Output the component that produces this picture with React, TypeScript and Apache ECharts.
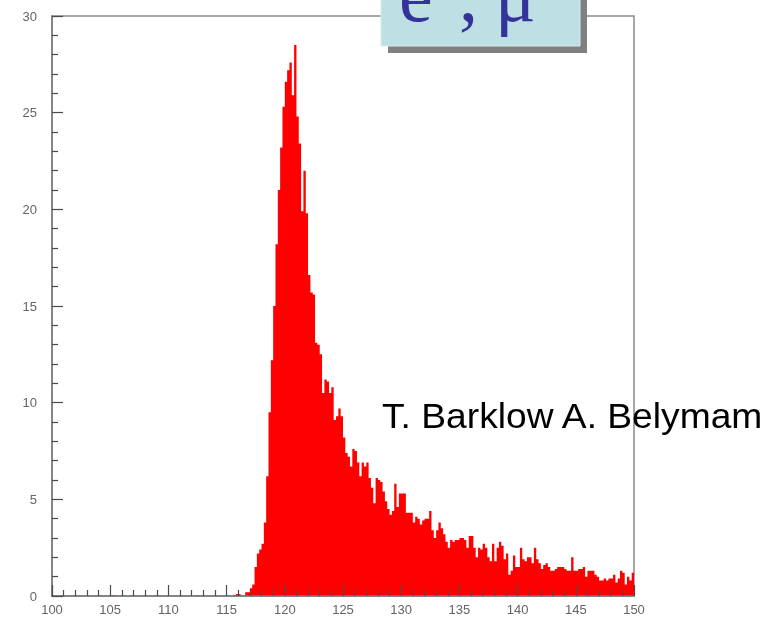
import React, { useEffect, useRef } from "react";
import * as echarts from "echarts";

// Histogram: bins of width 0.2 starting at 100
const binStart = 100;
const binWidth = 0.2;

// 100.0 – 115.8 (80 bins)
const counts100to116 = [
  0, 0, 0, 0, 0, 0, 0, 0, 0, 0, 0, 0, 0, 0, 0, 0, 0, 0, 0, 0,
  0, 0, 0, 0, 0, 0, 0.05, 0, 0, 0, 0, 0, 0, 0, 0, 0, 0, 0, 0, 0,
  0, 0, 0, 0, 0, 0, 0, 0, 0, 0, 0, 0, 0, 0, 0, 0, 0, 0, 0, 0,
  0, 0, 0.05, 0, 0, 0, 0, 0, 0, 0, 0, 0, 0, 0, 0, 0, 0, 0, 0.05, 0.1,
];

// 116.0 – 124.8 (45 bins)
const counts116to125 = [
  0.1, 0, 0, 0.2, 0.2,
  0.4, 0.6, 1.5, 2.2, 2.4,
  2.7, 3.8, 6.2, 9.5, 12.2,
  15.0, 18.2, 21.0, 23.2, 25.3,
  26.6, 27.2, 27.6, 25.9, 28.5,
  24.8, 23.4, 19.9, 22.0, 19.8,
  16.6, 15.7, 15.6, 13.1, 13.0,
  12.5, 10.5, 11.2, 11.1, 10.5,
  10.8, 9.1, 9.3, 9.7, 9.3,
];

// 125.0 – 149.8 (125 bins)
const counts125to150 = [
  8.2, 7.4, 7.2, 6.7, 7.6,
  7.5, 6.9, 6.2, 6.9, 6.7,
  6.9, 6.1, 5.6, 4.8, 6.1,
  6.0, 5.9, 5.4, 4.9, 4.5,
  4.2, 4.4, 5.8, 4.6, 5.3,
  5.3, 5.3, 4.3, 4.3, 4.3,
  3.8, 4.1, 4.0, 3.7, 3.9,
  4.0, 4.0, 4.4, 3.4, 3.0,
  3.4, 3.8, 3.5, 3.2, 2.8,
  2.5, 2.9, 2.8, 2.9, 2.9,
  3.0, 3.0, 2.9, 2.5, 3.1,
  3.1, 2.5, 2.0, 2.5, 2.4,
  2.7, 2.5, 2.0, 1.8, 2.7,
  1.8, 2.5, 2.8, 2.6, 1.9,
  2.2, 1.1, 1.3, 2.1, 1.5,
  1.5, 2.5, 1.9, 1.8, 2.0,
  2.0, 1.7, 2.5, 1.9, 1.7,
  1.4, 1.6, 1.7, 1.5, 1.3,
  1.3, 1.4, 1.5, 1.5, 1.5,
  1.4, 1.3, 1.3, 2.0, 1.3,
  1.3, 1.4, 1.4, 1.5, 1.0,
  1.3, 1.3, 1.3, 1.1, 1.0,
  0.8, 0.8, 0.9, 0.8, 0.9,
  0.9, 1.1, 0.7, 0.9, 1.3,
  1.2, 0.6, 1.0, 0.8, 1.2,
];

const xTickLabels = ["100", "105", "110", "115", "120", "125", "130", "135", "140", "145", "150"];
const yTickLabels = ["0", "5", "10", "15", "20", "25", "30"];

const boxText = ["e", ",", "μ"];
const authorText = "T. Barklow A. Belymam";

export default function App() {
  const ref = useRef<HTMLDivElement>(null);

  useEffect(() => {
    if (!ref.current) return;
    const chart = echarts.init(ref.current, undefined, { renderer: "svg" });

    const counts = [...counts100to116, ...counts116to125, ...counts125to150];
    const data: number[][] = counts.map((c, i) => [binStart + i * binWidth, c]);
    data.push([binStart + counts.length * binWidth, counts[counts.length - 1]]);

    const labelStyle = {
      fontFamily: "'Liberation Sans', Arial, sans-serif",
      fontSize: 13,
      color: "#62636c",
    };

    const tickColor = "#4a4a4a";
    const serif = "'Liberation Serif', 'DejaVu Serif', serif";

    chart.setOption({
      animation: false,
      grid: {
        left: 52,
        right: 134,
        top: 16,
        bottom: 21,
        show: true,
        borderColor: "#8a8a8a",
        borderWidth: 1.5,
      },
      xAxis: {
        type: "value",
        min: 100,
        max: 150,
        interval: 5,
        z: 5,
        axisLine: { show: true, onZero: false, lineStyle: { color: "#7a7a7a", width: 1.5 } },
        axisTick: { show: true, inside: true, length: 11, lineStyle: { color: tickColor, width: 1.2 } },
        minorTick: { show: true, splitNumber: 5, length: 6, lineStyle: { color: tickColor, width: 1.2 } },
        splitLine: { show: false },
        minorSplitLine: { show: false },
        axisLabel: {
          ...labelStyle,
          margin: 7,
          formatter: (v: number) => (xTickLabels.includes(String(v)) ? String(v) : ""),
        },
      },
      yAxis: {
        type: "value",
        min: 0,
        max: 30,
        interval: 5,
        z: 5,
        axisLine: { show: true, onZero: false, lineStyle: { color: "#7a7a7a", width: 1.5 } },
        axisTick: { show: true, inside: true, length: 11, lineStyle: { color: tickColor, width: 1.2 } },
        minorTick: { show: true, splitNumber: 5, length: 6, lineStyle: { color: tickColor, width: 1.2 } },
        splitLine: { show: false },
        minorSplitLine: { show: false },
        axisLabel: {
          ...labelStyle,
          margin: 15,
          formatter: (v: number) => (yTickLabels.includes(String(v)) ? String(v) : ""),
        },
      },
      series: [
        {
          type: "line",
          step: "end",
          data,
          symbol: "none",
          lineStyle: { width: 0, color: "#ff0000" },
          areaStyle: { color: "#ff0000", opacity: 1 },
          z: 2,
        },
      ],
      graphic: [
        {
          type: "rect",
          shape: { x: 388, y: -10, width: 199, height: 63 },
          style: { fill: "#808080" },
          z: 10,
        },
        {
          type: "rect",
          shape: { x: 381, y: -10, width: 199, height: 56 },
          style: { fill: "#bee0e5", stroke: "#d6ecef", lineWidth: 1 },
          z: 11,
        },
        {
          type: "text",
          x: 399,
          y: -5,
          style: { text: boxText[0], fontFamily: serif, fontSize: 76, fill: "#333399", verticalAlign: "middle" },
          z: 12,
        },
        {
          type: "text",
          x: 459,
          y: -5,
          style: { text: boxText[1], fontFamily: serif, fontSize: 76, fill: "#333399", verticalAlign: "middle" },
          z: 12,
        },
        {
          type: "text",
          x: 495,
          y: -5,
          style: { text: boxText[2], fontFamily: serif, fontSize: 76, fill: "#333399", verticalAlign: "middle" },
          z: 12,
        },
        {
          type: "text",
          x: 382,
          y: 416,
          scaleX: 1.063,
          style: {
            text: authorText,
            fontFamily: "'Liberation Sans', Arial, sans-serif",
            fontSize: 35,
            fill: "#000000",
            verticalAlign: "middle",
          },
          z: 6,
        },
      ],
    });

    return () => {
      chart.dispose();
    };
  }, []);

  return (
    <div
      ref={ref}
      style={{ position: "fixed", left: 0, top: 0, width: 768, height: 617 }}
    />
  );
}
